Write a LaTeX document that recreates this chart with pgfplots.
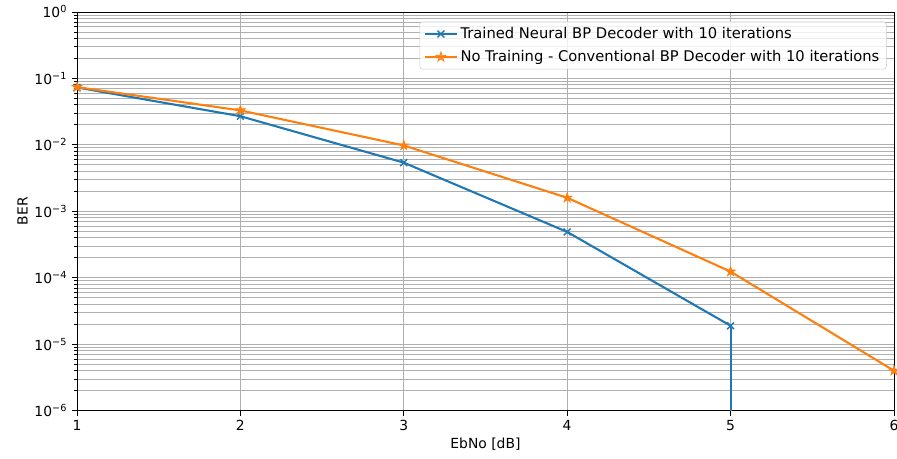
\documentclass[border=0pt]{standalone}
\usepackage{fontspec}
\setmainfont{DejaVu Sans}
\usepackage{pgfplots}
\pgfplotsset{compat=1.18}

\definecolor{mplblue}{HTML}{1F77B4}
\definecolor{mplorange}{HTML}{FF7F0E}
\definecolor{gridgray}{HTML}{B0B0B0}

% filled five-pointed star like matplotlib's '*'
\pgfdeclareplotmark{fstar}{%
  \pgfpathmoveto{\pgfpointpolar{90}{\pgfplotmarksize}}%
  \pgfpathlineto{\pgfpointpolar{126}{0.382*\pgfplotmarksize}}%
  \pgfpathlineto{\pgfpointpolar{162}{\pgfplotmarksize}}%
  \pgfpathlineto{\pgfpointpolar{198}{0.382*\pgfplotmarksize}}%
  \pgfpathlineto{\pgfpointpolar{234}{\pgfplotmarksize}}%
  \pgfpathlineto{\pgfpointpolar{270}{0.382*\pgfplotmarksize}}%
  \pgfpathlineto{\pgfpointpolar{306}{\pgfplotmarksize}}%
  \pgfpathlineto{\pgfpointpolar{342}{0.382*\pgfplotmarksize}}%
  \pgfpathlineto{\pgfpointpolar{18}{\pgfplotmarksize}}%
  \pgfpathlineto{\pgfpointpolar{54}{0.382*\pgfplotmarksize}}%
  \pgfpathclose
  \pgfusepathqfillstroke
}

\begin{document}
\begin{tikzpicture}
\begin{axis}[
    scale only axis,
    width=588pt, height=287pt,
    ymode=log, log basis y=10,
    xmin=1, xmax=6, ymin=1e-6, ymax=1,
    xtick={1,2,3,4,5,6},
    ytick={1e-6,1e-5,1e-4,1e-3,1e-2,1e-1,1},
    yticklabels={10\textsuperscript{−6},10\textsuperscript{−5},10\textsuperscript{−4},
                 10\textsuperscript{−3},10\textsuperscript{−2},10\textsuperscript{−1},10\textsuperscript{0}},
    minor ytick={2e-6,3e-6,4e-6,5e-6,6e-6,7e-6,8e-6,9e-6,
                 2e-5,3e-5,4e-5,5e-5,6e-5,7e-5,8e-5,9e-5,
                 2e-4,3e-4,4e-4,5e-4,6e-4,7e-4,8e-4,9e-4,
                 2e-3,3e-3,4e-3,5e-3,6e-3,7e-3,8e-3,9e-3,
                 2e-2,3e-2,4e-2,5e-2,6e-2,7e-2,8e-2,9e-2,
                 0.2,0.3,0.4,0.5,0.6,0.7,0.8,0.9},
    /pgf/number format/assume math mode=true,
    xlabel={EbNo [dB]}, ylabel={BER},
    tick pos=left, tick align=outside,
    major tick length=3.5pt, minor tick length=2pt,
    every tick/.style={black, line width=0.6pt},
    axis line style={line width=0.6pt},
    xmajorgrids=true, ymajorgrids=true, yminorgrids=true,
    major grid style={gridgray, line width=0.6pt},
    minor grid style={gridgray, line width=0.6pt},
    tick label style={font=\fontsize{10}{12}\selectfont},
    label style={font=\fontsize{10}{12}\selectfont},
    xlabel style={yshift=2pt},
    ylabel style={yshift=-2pt},
    legend style={at={(0.991,0.976)}, anchor=north east,
        font=\fontsize{10.6}{12}\selectfont,
        draw=gray!40, rounded corners=2pt, fill=white, fill opacity=0.8, text opacity=1,
        inner xsep=3pt, inner ysep=2pt, row sep=3pt, cells={anchor=west}},
    legend cell align=left,
    legend image code/.code={%
        \draw[mark repeat=2, mark phase=2]
            plot coordinates {(0cm,0cm) (0.4cm,0cm) (0.8cm,0cm)};},
]
\addplot[mplblue, line width=1.5pt, mark=x, mark size=3.5pt, mark options={line width=1pt}]
    coordinates {(1,0.073)(2,0.027)(3,0.0054)(4,0.00049)(5,1.9e-5)};
\addlegendentry{Trained Neural BP Decoder with 10 iterations}
\addplot[mplorange, line width=1.5pt, mark=fstar, mark size=3.7pt, mark options={line width=0.5pt}]
    coordinates {(1,0.074)(2,0.033)(3,0.0098)(4,0.0016)(5,0.000124)(6,4.0e-6)};
\addlegendentry{No Training - Conventional BP Decoder with 10 iterations}
% BER of zero at 6 dB: the curve drops off the bottom of the log axis
\addplot[mplblue, line width=1.5pt, forget plot]
    coordinates {(5,1.9e-5)(5,1e-9)};
\end{axis}
\pgfresetboundingbox
\path[use as bounding box] ([shift={(-55.4pt,-34.6pt)}]current axis.south west)
    rectangle ([shift={(2.2pt,8.6pt)}]current axis.north east);
\end{tikzpicture}
\end{document}
